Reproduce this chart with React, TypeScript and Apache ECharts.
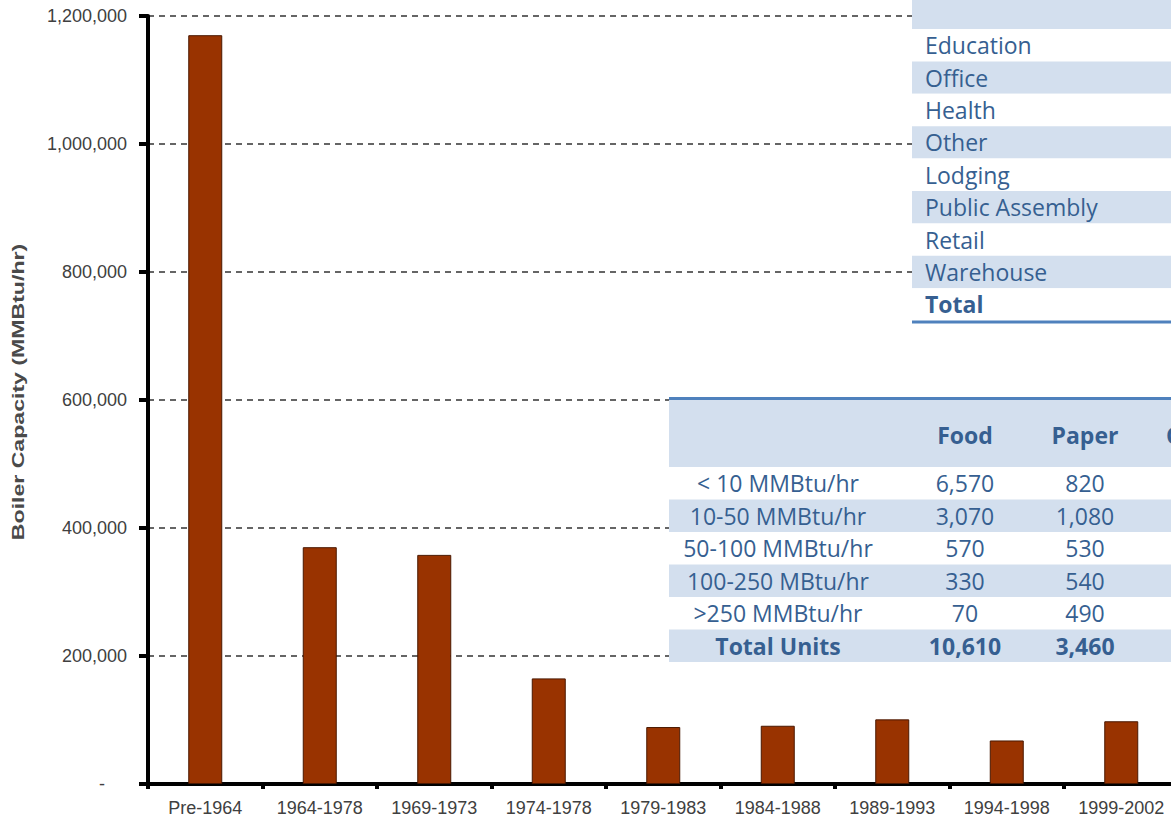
import React, { useEffect, useRef } from "react";
import * as echarts from "echarts";

// Boiler capacity by installation period
const periods = [
  "Pre-1964",
  "1964-1978",
  "1969-1973",
  "1974-1978",
  "1979-1983",
  "1984-1988",
  "1989-1993",
  "1994-1998",
  "1999-2002",
];
const capacity = [1170000, 370000, 358000, 165000, 89000, 91000, 101000, 68000, 98000];
const capacityTitle = "Boiler Capacity (MMBtu/hr)";

// Commercial sector table (row labels)
const commercialSectors = [
  "Education",
  "Office",
  "Health",
  "Other",
  "Lodging",
  "Public Assembly",
  "Retail",
  "Warehouse",
  "Total",
];

// Industrial unit counts by size class
const sizeClasses = [
  "< 10 MMBtu/hr",
  "10-50 MMBtu/hr",
  "50-100 MMBtu/hr",
  "100-250 MBtu/hr",
  ">250 MMBtu/hr",
  "Total Units",
];
const industryHeaders = ["Food", "Paper", "Chemicals"];
const foodUnits = [6570, 3070, 570, 330, 70, 10610];
const paperUnits = [820, 1080, 530, 540, 490, 3460];

const TABLE_BLUE = "#D3DFEE";
const TABLE_LINE = "#4F81BD";
const TABLE_TEXT = "#365F91";
const TABLE_FONT = "'Open Sans', 'Noto Sans', sans-serif";
const AXIS_FONT = "'Liberation Sans', Arial, sans-serif";
const AXIS_TEXT = "#404040";

const fmt = (v: number) => v.toLocaleString("en-US");

function tableText(
  text: string,
  x: number,
  y: number,
  align: string,
  bold: boolean
) {
  return {
    type: "text",
    z: 101,
    style: {
      text,
      x,
      y,
      fill: TABLE_TEXT,
      fontFamily: TABLE_FONT,
      fontSize: 23,
      fontWeight: bold ? "bold" : "normal",
      textAlign: align,
      textVerticalAlign: "middle",
    },
  };
}

function buildCommercialTable() {
  const left = 912;
  const width = 320;
  const rowH = 32.4;
  const firstTop = 29;
  const els: any[] = [];
  // header row (its upper part lies above the page)
  els.push({
    type: "rect",
    z: 100,
    shape: { x: left, y: firstTop - rowH, width, height: rowH },
    style: { fill: TABLE_BLUE },
  });
  commercialSectors.forEach((name, i) => {
    const top = firstTop + i * rowH;
    els.push({
      type: "rect",
      z: 100,
      shape: { x: left, y: top, width, height: rowH },
      style: { fill: i % 2 === 1 ? TABLE_BLUE : "#ffffff" },
    });
    els.push(
      tableText(name, left + 13, top + rowH / 2, "left", name === "Total")
    );
  });
  const bottom = firstTop + commercialSectors.length * rowH;
  els.push({
    type: "rect",
    z: 101,
    shape: { x: left, y: bottom, width, height: 3 },
    style: { fill: TABLE_LINE },
  });
  return els;
}

function buildIndustrialTable() {
  const left = 669;
  const width = 560;
  const lineTop = 397;
  const headerTop = 400;
  const headerH = 67;
  const rowH = 32.5;
  const labelX = 778;
  const colX = [965, 1085];
  const els: any[] = [];
  els.push({
    type: "rect",
    z: 101,
    shape: { x: left, y: lineTop, width, height: 3 },
    style: { fill: TABLE_LINE },
  });
  els.push({
    type: "rect",
    z: 100,
    shape: { x: left, y: headerTop, width, height: headerH },
    style: { fill: TABLE_BLUE },
  });
  const headerMid = headerTop + headerH / 2 + 1;
  els.push(tableText(industryHeaders[0], colX[0], headerMid, "center", true));
  els.push(tableText(industryHeaders[1], colX[1], headerMid, "center", true));
  els.push(tableText(industryHeaders[2], 1166, headerMid, "left", true));
  sizeClasses.forEach((name, i) => {
    const top = headerTop + headerH + i * rowH;
    const isTotal = i === sizeClasses.length - 1;
    els.push({
      type: "rect",
      z: 100,
      shape: { x: left, y: top, width, height: rowH },
      style: { fill: i % 2 === 1 ? TABLE_BLUE : "#ffffff" },
    });
    const mid = top + rowH / 2;
    els.push(tableText(name, labelX, mid, "center", isTotal));
    els.push(tableText(fmt(foodUnits[i]), colX[0], mid, "center", isTotal));
    els.push(tableText(fmt(paperUnits[i]), colX[1], mid, "center", isTotal));
  });
  return els;
}

export default function App() {
  const ref = useRef<HTMLDivElement>(null);

  useEffect(() => {
    if (!ref.current) return;
    const chart = echarts.init(ref.current, null, { renderer: "svg" });
    chart.setOption({
      animation: false,
      backgroundColor: "#ffffff",
      grid: {
        left: 148,
        right: -7.5,
        top: 16,
        bottom: 35,
        outerBoundsMode: "none",
      },
      xAxis: {
        type: "category",
        data: periods,
        boundaryGap: true,
        axisLine: { show: true, lineStyle: { color: "#000", width: 4 } },
        axisTick: {
          show: true,
          alignWithLabel: false,
          length: 5,
          lineStyle: { color: "#000", width: 4 },
        },
        axisLabel: {
          color: AXIS_TEXT,
          fontFamily: AXIS_FONT,
          fontSize: 18,
          margin: 15,
        },
        splitLine: { show: false },
      },
      yAxis: {
        type: "value",
        min: 0,
        max: 1200000,
        interval: 200000,
        axisLine: { show: true, lineStyle: { color: "#000", width: 4 } },
        axisTick: { show: true, length: 9, lineStyle: { color: "#000", width: 4 } },
        axisLabel: {
          color: AXIS_TEXT,
          fontFamily: AXIS_FONT,
          fontSize: 18,
          margin: 21,
          formatter: (v: number) => (v === 0 ? "{z|-}" : fmt(v)),
          rich: {
            z: {
              color: AXIS_TEXT,
              fontFamily: AXIS_FONT,
              fontSize: 18,
              padding: [0, 22, 0, 0],
            },
          },
        },
        splitLine: {
          show: true,
          lineStyle: { color: "#333", width: 1.5, type: [6, 5] },
        },
      },
      series: [
        {
          type: "bar",
          data: capacity,
          barWidth: 34,
          itemStyle: {
            color: "#993300",
            borderColor: "#4a1800",
            borderWidth: 1,
          },
        },
      ],
      graphic: [
        // vertical axis title, stretched along its reading direction
        {
          type: "text",
          x: 18,
          y: 392,
          rotation: Math.PI / 2,
          scaleX: 1.4,
          scaleY: 1,
          z: 50,
          style: {
            text: capacityTitle,
            fill: "#4a4a4a",
            fontFamily: AXIS_FONT,
            fontSize: 16.5,
            fontWeight: "bold",
            textAlign: "center",
            textVerticalAlign: "middle",
          },
        },
        ...buildCommercialTable(),
        ...buildIndustrialTable(),
      ],
    });
    return () => chart.dispose();
  }, []);

  return (
    <div
      ref={ref}
      style={{ position: "absolute", left: 0, top: 0, width: 1171, height: 819 }}
    />
  );
}
